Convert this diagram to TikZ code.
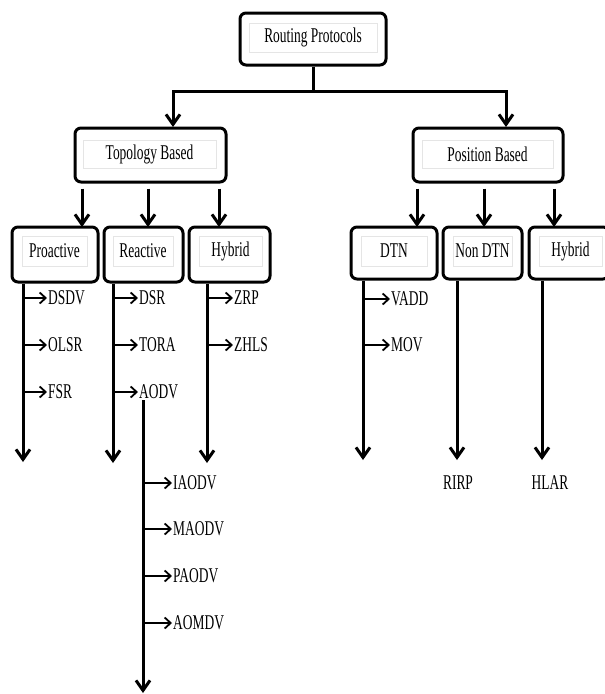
\documentclass[tikz,border=0pt]{standalone}
\usepackage{fontspec}
\newfontfamily\labelfont[FakeStretch=0.64]{Liberation Serif}
\usetikzlibrary{arrows.meta}

\begin{document}
\begin{tikzpicture}[x=1pt,y=-1pt,
  roundbox/.style={draw,line width=3pt,rounded corners=6pt},
  framebox/.style={draw=gray!20,line width=0.8pt,inner sep=0pt,font=\labelfont\fontsize{21}{21}\selectfont},
  item/.style={anchor=west,inner sep=1pt,font=\labelfont\fontsize{21}{21}\selectfont},
  stem/.style={line width=3pt},
  arr/.style={line width=3pt,-{Straight Barb[length=10pt,width=14pt]}},
  branch/.style={line width=1.8pt,-{Straight Barb[length=6pt,width=11pt]}}]
\useasboundingbox (0,0) rectangle (605,694);

% root
\node[roundbox,minimum width=146pt,minimum height=52pt] (RP) at (313,39) {};
\node[framebox,minimum width=128pt,minimum height=29pt] (RPt) at (313,37.5) {Routing Protocols};

\coordinate (split) at (313,91);
\coordinate (TBin) at (173,127);
\coordinate (PBin) at (506,127);
\draw[stem] (RP.south) -- (split);
\draw[arr] (split) -| (TBin);
\draw[arr] (split) -| (PBin);

% second level
\node[roundbox,minimum width=151pt,minimum height=54pt] (TB) at (150.5,155) {};
\node[framebox,minimum width=133pt,minimum height=28pt] (TBt) at (149.5,154) {Topology Based};
\node[roundbox,minimum width=150pt,minimum height=54pt] (PB) at (488,155) {};
\node[framebox,minimum width=131pt,minimum height=28pt] (PBt) at (487.5,154) {Position Based};

% third level
\node[roundbox,minimum width=86pt,minimum height=55pt] (Pro) at (55,254.5) {};
\node[framebox,minimum width=65pt,minimum height=30pt] (Prot) at (54.5,251) {Proactive};
\node[roundbox,minimum width=79pt,minimum height=55pt] (Rea) at (143.5,254.5) {};
\node[framebox,minimum width=60pt,minimum height=30pt] (Reat) at (143,251) {Reactive};
\node[roundbox,minimum width=81pt,minimum height=55pt] (HyT) at (229.5,254.5) {};
\node[framebox,minimum width=63pt,minimum height=30pt] (HyTt) at (230.5,251) {Hybrid};

\node[roundbox,minimum width=86pt,minimum height=52pt] (DTN) at (394,253) {};
\node[framebox,minimum width=66pt,minimum height=30pt] (DTNt) at (394,251) {DTN};
\node[roundbox,minimum width=79pt,minimum height=52pt] (NDTN) at (482.5,253) {};
\node[framebox,minimum width=59pt,minimum height=30pt] (NDTNt) at (482.5,251) {Non DTN};
\node[roundbox,minimum width=80pt,minimum height=52pt] (HyP) at (569,253) {};
\node[framebox,minimum width=63pt,minimum height=30pt] (HyPt) at (570.5,251) {Hybrid};

\coordinate (Proin) at (82,227);
\coordinate (Reain) at (148,227);
\coordinate (HyTin) at (219,227);
\coordinate (DTNin) at (417,227);
\coordinate (NDTNin) at (484,227);
\coordinate (HyPin) at (554,227);
\draw[arr,shorten <=5pt] (TB.south -| Proin) -- (Proin);
\draw[arr,shorten <=5pt] (TB.south -| Reain) -- (Reain);
\draw[arr,shorten <=5pt] (TB.south -| HyTin) -- (HyTin);
\draw[arr,shorten <=5pt] (PB.south -| DTNin) -- (DTNin);
\draw[arr,shorten <=5pt] (PB.south -| NDTNin) -- (NDTNin);
\draw[arr,shorten <=5pt] (PB.south -| HyPin) -- (HyPin);

% down lines
\coordinate (Proend) at (23,462);
\coordinate (Reaend) at (113,463);
\coordinate (HyTend) at (207,463);
\coordinate (DTNend) at (363,460);
\coordinate (NDTNend) at (457,460);
\coordinate (HyPend) at (542,460);
\draw[arr] (Pro.south -| Proend) -- (Proend);
\draw[arr] (Rea.south -| Reaend) -- (Reaend);
\draw[arr] (HyT.south -| HyTend) -- (HyTend);
\draw[arr] (DTN.south -| DTNend) -- (DTNend);
\draw[arr] (NDTN.south -| NDTNend) -- (NDTNend);
\draw[arr] (HyP.south -| HyPend) -- (HyPend);

% protocols
\node[item] (DSDV) at (47,298) {DSDV};
\node[item] (OLSR) at (47,345) {OLSR};
\node[item] (FSR) at (47,392) {FSR};
\draw[branch] (Proend |- DSDV.west) -- (DSDV.west);
\draw[branch] (Proend |- OLSR.west) -- (OLSR.west);
\draw[branch] (Proend |- FSR.west) -- (FSR.west);

\node[item] (DSR) at (138,298) {DSR};
\node[item] (TORA) at (138,345) {TORA};
\node[item] (AODV) at (138,392) {AODV};
\draw[branch] (Reaend |- DSR.west) -- (DSR.west);
\draw[branch] (Reaend |- TORA.west) -- (TORA.west);
\draw[branch] (Reaend |- AODV.west) -- (AODV.west);

\node[item] (ZRP) at (233,298) {ZRP};
\node[item] (ZHLS) at (233,345) {ZHLS};
\draw[branch] (HyTend |- ZRP.west) -- (ZRP.west);
\draw[branch] (HyTend |- ZHLS.west) -- (ZHLS.west);

\node[item] (VADD) at (390,299) {VADD};
\node[item] (MOV) at (390,345) {MOV};
\draw[branch] (DTNend |- VADD.west) -- (VADD.west);
\draw[branch] (DTNend |- MOV.west) -- (MOV.west);

\node[item,anchor=center] (RIRP) at (458,483) {RIRP};
\node[item,anchor=center] (HLAR) at (550,483) {HLAR};

% AODV variants
\coordinate (AODVend) at (143,693);
\draw[arr] (AODV.south -| AODVend) -- (AODVend);
\node[item] (IAODV) at (172,483) {IAODV};
\node[item] (MAODV) at (172,529) {MAODV};
\node[item] (PAODV) at (172,576) {PAODV};
\node[item] (AOMDV) at (172,623) {AOMDV};
\draw[branch] (AODVend |- IAODV.west) -- (IAODV.west);
\draw[branch] (AODVend |- MAODV.west) -- (MAODV.west);
\draw[branch] (AODVend |- PAODV.west) -- (PAODV.west);
\draw[branch] (AODVend |- AOMDV.west) -- (AOMDV.west);

\end{tikzpicture}
\end{document}
